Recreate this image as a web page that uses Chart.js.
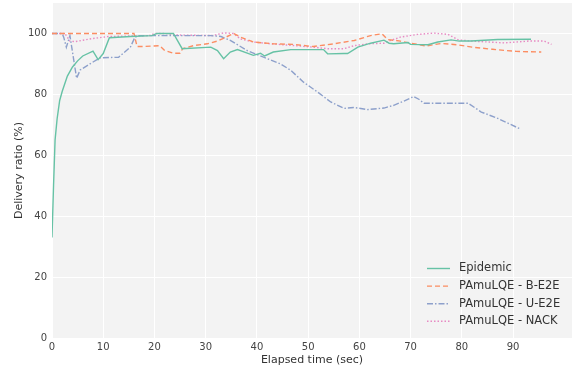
<!DOCTYPE html>
<html>
<head>
<meta charset="utf-8">
<script src="https://cdn.jsdelivr.net/npm/chart.js@4.4.0/dist/chart.umd.min.js"></script>
<style>
  html, body { margin: 0; padding: 0; background: #fff; }
  #wrap { width: 572px; height: 374px; overflow: hidden; position: relative; }
  #chart { position: absolute; left: 0; top: -8px; }
</style>
</head>
<body>
<div id="wrap"><canvas id="chart" width="572" height="382"></canvas></div>
<script>
// series: elapsed time (sec) and delivery ratio (%)
const seriesNames = ['Epidemic', 'PAmuLQE - B-E2E', 'PAmuLQE - U-E2E', 'PAmuLQE - NACK'];

const epidemicT = [0, 0.3, 0.6, 1, 1.5, 2, 3, 4, 5, 6, 8, 9, 10, 11.2, 15.3, 19.5, 20.5, 23.7, 25.4, 31, 32.3, 33.5, 34.8, 36.2, 39.3, 40.7, 41.5, 43.2, 46.6, 50.5, 53, 53.8, 57, 57.7, 59.7, 62.2, 64.8, 65.8, 66.7, 69.5, 70, 73.4, 75.3, 77.9, 79.5, 81.8, 87, 93.5];
const epidemicV = [33, 50, 65, 72, 78, 81, 86, 89, 91, 92.6, 94.2, 91.4, 93.4, 98.6, 99, 99.3, 100, 100, 95, 95.5, 94.4, 91.7, 93.9, 94.7, 92.8, 93.5, 92.6, 93.9, 94.7, 94.7, 94.7, 93.3, 93.4, 93.4, 95.5, 96.8, 97.8, 96.8, 96.6, 97, 96.4, 96.3, 97.2, 97.9, 97.5, 97.5, 98, 98.1];

const bE2eT = [0, 16, 16.6, 17.8, 21, 22, 23.7, 25, 25.5, 27.6, 30.3, 32.3, 34.2, 35.4, 36.8, 39.3, 43.2, 47.2, 51, 55, 59, 62.2, 64.4, 65.5, 68, 70, 73, 76, 79, 82, 86, 90.6, 95.5];
const bE2eV = [100, 100, 95.7, 95.7, 96, 94.4, 93.5, 93.5, 95, 96, 96.6, 97.5, 99, 100, 98.8, 97.2, 96.6, 96.4, 95.7, 96.6, 97.7, 99.3, 99.9, 98, 97.5, 96.8, 95.9, 96.7, 96.3, 95.5, 94.8, 94.1, 93.9];

const uE2eT = [0, 2, 2.3, 2.8, 3.5, 4.8, 5.5, 7.4, 9.4, 13, 15.3, 16.2, 17, 31, 33, 34.8, 38.1, 41.3, 44.6, 46.6, 49.1, 51.8, 54.4, 57, 59, 61.6, 64.8, 66.7, 68.7, 70.6, 71.6, 72.6, 81.2, 83.8, 87, 91.2];
const uE2eV = [100, 100, 98.7, 95.5, 99.3, 85.3, 88, 90, 92, 92.2, 95.5, 98.8, 99.3, 99.3, 99, 97.7, 94.4, 92.2, 90, 87.9, 84, 80.8, 77.5, 75.4, 75.7, 75, 75.5, 76.4, 77.8, 79.3, 78.4, 77.1, 77.1, 74.2, 72.1, 68.8];

const nackT = [0, 2.5, 3.5, 4.5, 7.4, 11, 19, 20, 22, 24, 31.5, 33.5, 35.4, 36.8, 39.3, 42.7, 46.6, 51, 53.8, 57, 59, 61.6, 64.8, 66.1, 68, 71.4, 74.6, 77.3, 79.3, 81.8, 88.3, 93, 96.1, 97.5];
const nackV = [100, 100, 97.5, 97.3, 98.2, 99, 99.3, 100, 100, 99.5, 99.3, 100.2, 100, 98.2, 97.2, 96.6, 96.1, 95.5, 95, 95, 96, 96.6, 96.8, 97.7, 98.8, 99.7, 100.1, 99.7, 97.9, 97.5, 96.9, 97.5, 97.5, 96.4];

const xTicks = [0, 10, 20, 30, 40, 50, 60, 70, 80, 90];
const yTicks = [0, 20, 40, 60, 80, 100];

const colors = ['#66c2a5', '#fc8d62', '#8da0cb', '#e78ac3'];
const dashes = [[], [5, 3], [6, 2, 1.5, 2], [1.5, 2]];

// canvas is shifted up by this much so the plot can start near the top edge
const SHIFT = 8;

function toPoints(ts, vs) {
    return ts.map((t, i) => ({ x: t, y: vs[i] }));
}

const allSeries = [
    toPoints(epidemicT, epidemicV),
    toPoints(bE2eT, bE2eV),
    toPoints(uE2eT, uE2eV),
    toPoints(nackT, nackV)
];

const datasets = allSeries.map((pts, i) => ({
    label: seriesNames[i],
    data: pts,
    borderColor: colors[i],
    borderWidth: 1.4,
    borderDash: dashes[i],
    pointRadius: 0,
    fill: false,
    tension: 0
}));

// grey plot background like the seaborn style
const plotBg = {
    id: 'plotBg',
    beforeDraw(chart) {
        const { ctx, chartArea: a } = chart;
        ctx.save();
        ctx.fillStyle = '#f3f3f3';
        ctx.fillRect(a.left, a.top, a.right - a.left, a.bottom - a.top);
        ctx.restore();
    }
};

// legend in the lower right corner of the plot, no frame
const cornerLegend = {
    id: 'cornerLegend',
    afterDraw(chart) {
        const ctx = chart.ctx;
        ctx.save();
        ctx.font = '11.5px "DejaVu Sans"';
        ctx.textBaseline = 'middle';
        chart.data.datasets.forEach((ds, i) => {
            const y = SHIFT + 268.5 + i * 17.6;
            ctx.strokeStyle = ds.borderColor;
            ctx.lineWidth = 1.4;
            ctx.setLineDash(ds.borderDash);
            ctx.beginPath();
            ctx.moveTo(427, y);
            ctx.lineTo(450, y);
            ctx.stroke();
            ctx.setLineDash([]);
            ctx.fillStyle = '#333';
            ctx.fillText(ds.label, 459, y);
        });
        ctx.restore();
    }
};

new Chart(document.getElementById('chart'), {
    type: 'line',
    data: { datasets },
    options: {
        responsive: false,
        animation: false,
        layout: { padding: 0 },
        plugins: {
            legend: { display: false },
            tooltip: { enabled: false }
        },
        scales: {
            x: {
                type: 'linear',
                min: 0,
                max: 101.5,
                afterBuildTicks: scale => { scale.ticks = xTicks.map(v => ({ value: v })); },
                afterFit: scale => { scale.height = 36; },
                ticks: { color: '#444', font: { family: 'DejaVu Sans', size: 10 }, padding: 3, maxRotation: 0 },
                grid: { color: '#ffffff', lineWidth: 1, drawTicks: false },
                border: { display: false },
                title: { display: true, text: 'Elapsed time (sec)', color: '#333', font: { family: 'DejaVu Sans', size: 11 }, padding: { top: 0, bottom: 7 } }
            },
            y: {
                min: 0,
                max: 110,
                afterBuildTicks: scale => { scale.ticks = yTicks.map(v => ({ value: v })); },
                afterFit: scale => { scale.width = 52; },
                ticks: { color: '#444', font: { family: 'DejaVu Sans', size: 10 }, padding: 5 },
                grid: { color: '#ffffff', lineWidth: 1, drawTicks: false },
                border: { display: false },
                title: { display: true, text: 'Delivery ratio (%)', color: '#333', font: { family: 'DejaVu Sans', size: 11 }, padding: { top: 13, bottom: 0 } }
            }
        }
    },
    plugins: [plotBg, cornerLegend]
});
</script>
</body>
</html>
